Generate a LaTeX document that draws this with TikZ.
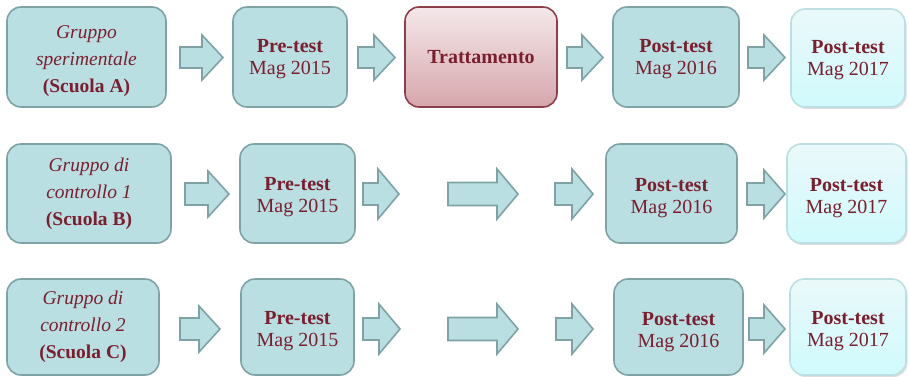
\documentclass[tikz,border=0pt]{standalone}
\usepackage{fontspec}
\setmainfont{Liberation Serif}
\usetikzlibrary{shadows}

\definecolor{tealfill}{HTML}{B9DFE2}
\definecolor{tealline}{HTML}{7FA3A5}
\definecolor{inkred}{HTML}{7A1F2E}
\definecolor{redtop}{HTML}{F4E8EA}
\definecolor{redbot}{HTML}{D6A6AC}
\definecolor{redline}{HTML}{8C3F4B}
\definecolor{cyantop}{HTML}{EAF9FA}
\definecolor{cyanbot}{HTML}{D0FAFC}
\definecolor{cyanline}{HTML}{BCDFE1}

\tikzset{
  box/.style={rectangle, rounded corners=14pt, line width=1.6pt, align=center,
    text=inkred, inner sep=2pt, font=\fontsize{20}{22}\selectfont},
  tealbox/.style={box, fill=tealfill, draw=tealline},
  treatbox/.style={box, draw=redline, top color=redtop, bottom color=redbot},
  laterbox/.style={box, draw=cyanline, top color=cyantop, bottom color=cyanbot,
    drop shadow={shadow xshift=1.5pt, shadow yshift=-2pt, opacity=0.25}},
  groupbox/.style={tealbox, font=\fontsize{19.5}{27}\selectfont},
  blockarrow/.style={fill=tealfill, draw=tealline, line width=1.6pt, line join=miter},
  % height of the text block above its last baseline; a larger value lowers the text
  tdown/.style={text height=#1},
}

% block arrow: left end, tip, centre line, shaft half-height, head half-height
\newcommand{\blockarr}[5]{%
  \draw[blockarrow] (#1,#3-#4) -- ({#2-21},#3-#4) -- ({#2-21},#3-#5) -- (#2,#3)
    -- ({#2-21},#3+#5) -- ({#2-21},#3+#4) -- (#1,#3+#4) -- cycle;}

\begin{document}
\begin{tikzpicture}[x=1pt,y=-1pt]
\useasboundingbox (0,0) rectangle (909,376);

% row 1: experimental group
\node[groupbox, tdown=76pt, minimum width=159pt, minimum height=100pt] (A) at (86.5,57)
  {\textit{Gruppo}\\\textit{sperimentale}\\\textbf{(Scuola A)}};
\node[tealbox, tdown=39pt, minimum width=114pt, minimum height=100pt] (preA) at (290,57)
  {\textbf{Pre-test}\\Mag 2015};
\node[treatbox, minimum width=152pt, minimum height=100pt] (trA) at (481,57)
  {\textbf{Trattamento}};
\node[tealbox, tdown=39pt, minimum width=126pt, minimum height=100pt] (postA) at (676,57)
  {\textbf{Post-test}\\Mag 2016};
\node[laterbox, tdown=40pt, minimum width=114pt, minimum height=98pt] (lateA) at (848,58)
  {\textbf{Post-test}\\Mag 2017};

\blockarr{180}{223}{57.5}{10.5}{22.5}
\blockarr{358}{395}{57.5}{10.5}{22.5}
\blockarr{567}{603}{57.5}{10.5}{22.5}
\blockarr{748}{785}{57.5}{10.5}{22.5}

% row 2: control group 1
\node[groupbox, minimum width=164pt, minimum height=99pt] (B) at (89,193.5)
  {\textit{Gruppo di}\\\textit{controllo 1}\\\textbf{(Scuola B)}};
\node[tealbox, tdown=43pt, minimum width=115pt, minimum height=99pt] (preB) at (297.5,193.5)
  {\textbf{Pre-test}\\Mag 2015};
\node[tealbox, tdown=44pt, minimum width=131pt, minimum height=99pt] (postB) at (671.5,193.5)
  {\textbf{Post-test}\\Mag 2016};
\node[laterbox, tdown=44pt, minimum width=119pt, minimum height=99pt] (lateB) at (846.5,193.5)
  {\textbf{Post-test}\\Mag 2017};

\blockarr{185}{229}{194}{11}{23}
\blockarr{363}{399}{194}{11}{25}
\blockarr{448}{518}{194}{11.5}{25}
\blockarr{555}{593}{194}{11}{25}
\blockarr{747}{785}{194}{11}{24}

% row 3: control group 2
\node[groupbox, minimum width=152pt, minimum height=96pt] (C) at (83,327)
  {\textit{Gruppo di}\\\textit{controllo 2}\\\textbf{(Scuola C)}};
\node[tealbox, tdown=43.5pt, minimum width=113pt, minimum height=96pt] (preC) at (297.5,327)
  {\textbf{Pre-test}\\Mag 2015};
\node[tealbox, tdown=46pt, minimum width=129pt, minimum height=96pt] (postC) at (678.5,327)
  {\textbf{Post-test}\\Mag 2016};
\node[laterbox, tdown=43pt, minimum width=116pt, minimum height=96pt] (lateC) at (848,327)
  {\textbf{Post-test}\\Mag 2017};

\blockarr{180}{220}{329}{11}{23}
\blockarr{363}{400}{329}{11}{25}
\blockarr{448}{518}{329}{11.5}{25}
\blockarr{556}{593}{329}{11}{25}
\blockarr{749}{785}{329}{11}{24}
\end{tikzpicture}
\end{document}
